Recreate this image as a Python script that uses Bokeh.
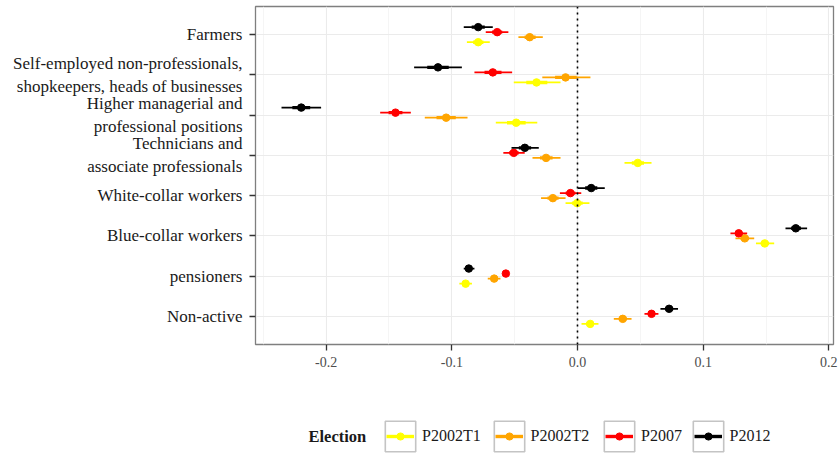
from bokeh.plotting import figure
from bokeh.layouts import column
from bokeh.models import (ColumnDataSource, FactorRange, Range1d, FixedTicker, Span,
                          PrintfTickFormatter, Legend, LegendItem, Label)
from bokeh.transform import dodge
from bokeh.embed import file_html
from bokeh.resources import INLINE

categories = ["Farmers",
              "Self-employed non-professionals,\nshopkeepers, heads of businesses",
              "Higher managerial and\nprofessional positions",
              "Technicians and\nassociate professionals",
              "White-collar workers",
              "Blue-collar workers",
              "pensioners",
              "Non-active"]

elections = ["P2002T1", "P2002T2", "P2007", "P2012"]
colors = ["#FFFF00", "#FFA500", "#FF0000", "#000000"]

est_P2002T1 = [-0.079, -0.0326, -0.0488, 0.048, -0.0003, 0.149, -0.089, 0.0101]
lo_P2002T1 = [-0.088, -0.0507, -0.065, 0.0374, -0.0095, 0.142, -0.094, 0.0032]
hi_P2002T1 = [-0.0698, -0.0135, -0.032, 0.0589, 0.0095, 0.1565, -0.084, 0.0167]

est_P2002T2 = [-0.038, -0.0095, -0.1045, -0.025, -0.0196, 0.1331, -0.0663, 0.036]
lo_P2002T2 = [-0.047, -0.028, -0.1215, -0.0358, -0.029, 0.1257, -0.0714, 0.0289]
hi_P2002T2 = [-0.0276, 0.0103, -0.0875, -0.0135, -0.0095, 0.1406, -0.0613, 0.043]

est_P2007 = [-0.0639, -0.0674, -0.1448, -0.0507, -0.0056, 0.1283, -0.057, 0.0589]
lo_P2007 = [-0.073, -0.082, -0.157, -0.059, -0.014, 0.1217, -0.059, 0.0533]
hi_P2007 = [-0.055, -0.052, -0.1326, -0.042, 0.003, 0.135, -0.055, 0.0644]

est_P2012 = [-0.079, -0.111, -0.2198, -0.0419, 0.0109, 0.1737, -0.0865, 0.0729]
lo_P2012 = [-0.0905, -0.130, -0.2355, -0.0525, 0.0003, 0.1655, -0.0905, 0.066]
hi_P2012 = [-0.0674, -0.092, -0.204, -0.0308, 0.0217, 0.1827, -0.082, 0.080]

x_ticks = [-0.2, -0.1, 0.0, 0.1, 0.2]
x_minor = [-0.25, -0.15, -0.05, 0.05, 0.15]
reference_x = 0.0
legend_title = "Election"

series = {
    "P2002T1": (est_P2002T1, lo_P2002T1, hi_P2002T1),
    "P2002T2": (est_P2002T2, lo_P2002T2, hi_P2002T2),
    "P2007": (est_P2007, lo_P2007, hi_P2007),
    "P2012": (est_P2012, lo_P2012, hi_P2012),
}

# style / layout constants
offsets = {"P2002T1": -0.1875, "P2002T2": -0.0625, "P2007": 0.0625, "P2012": 0.1875}
INNER = 0.45            # thick inner part of the interval
FRAME_LEFT = 255        # left edge of the plotting frame, px
KEY_CENTERS = [400, 508.5, 619, 707.5]   # legend key box centres, px from the left
BOX = 38                # legend box glyph size (inner box is 80 %)
KEY = 28                # legend line/point glyph width
FONT = "Liberation Serif"

y_range = FactorRange(factors=list(reversed(categories)),
                      range_padding=0.2, range_padding_units="absolute")
x_range = Range1d(-0.2562, 0.2037)

p = figure(width=840, height=375, y_range=y_range, x_range=x_range,
           output_backend="svg", toolbar_location=None,
           min_border_left=FRAME_LEFT, min_border_right=7, min_border_top=6,
           min_border_bottom=31)

p.background_fill_color = "white"
p.border_fill_color = "white"
p.outline_line_color = "#7f7f7f"
p.outline_line_width = 1.3

p.xaxis.ticker = FixedTicker(ticks=x_ticks, minor_ticks=x_minor)
p.xaxis.formatter = PrintfTickFormatter(format="%.1f")
p.xgrid.grid_line_color = "#ebebeb"
p.xgrid.grid_line_width = 1.1
p.xgrid.minor_grid_line_color = "#f2f2f2"
p.xgrid.minor_grid_line_width = 0.8
p.ygrid.grid_line_color = "#ebebeb"
p.ygrid.grid_line_width = 1.1

for ax in (p.xaxis[0], p.yaxis[0]):
    ax.axis_line_color = None
    ax.major_tick_line_color = "#333333"
    ax.major_tick_line_width = 1.3
    ax.major_tick_out = 6
    ax.major_tick_in = 0
    ax.minor_tick_line_color = None
    ax.major_label_text_font = FONT

p.xaxis.major_label_text_font_size = "14px"
p.xaxis.major_label_text_color = "#4d4d4d"
p.xaxis.major_label_standoff = 6
p.yaxis.major_label_text_font_size = "17px"
p.yaxis.major_label_text_color = "#1a1a1a"
p.yaxis.major_label_standoff = 7

p.add_layout(Span(location=reference_x, dimension="height", line_color="black",
                  line_width=1.6, line_dash="dotted"))

# legend strip below the chart (shares the ranges, draws nothing itself)
pl = figure(width=840, height=80, y_range=y_range, x_range=x_range,
            output_backend="svg", toolbar_location=None,
            x_axis_location=None, y_axis_location=None,
            min_border_left=0, min_border_right=0, min_border_top=0, min_border_bottom=0)
pl.outline_line_color = None
pl.grid.visible = False
pl.background_fill_color = "white"
pl.border_fill_color = "white"

for name, col, cx in zip(elections, colors, KEY_CENTERS):
    est, lo, hi = series[name]
    src = ColumnDataSource(dict(
        cat=categories, est=est, lo=lo, hi=hi,
        ilo=[e - INNER * (e - l) for e, l in zip(est, lo)],
        ihi=[e + INNER * (h - e) for e, h in zip(est, hi)],
    ))
    yd = dodge("cat", offsets[name], range=y_range)
    p.segment(x0="lo", x1="hi", y0=yd, y1=yd, source=src, line_color=col, line_width=1.8)
    p.segment(x0="ilo", x1="ihi", y0=yd, y1=yd, source=src, line_color=col, line_width=3.4)
    p.scatter(x="est", y=yd, source=src, size=7.5, fill_color=col, line_color=col)

    # hidden renderers used only for the legend keys
    box = pl.rect(x="est", y=yd, width=0, height=0, source=src, fill_color="white",
                  line_color="#c4c4c4", line_width=1.6, visible=False)
    kl = pl.segment(x0="ilo", x1="ihi", y0=yd, y1=yd, source=src, line_color=col,
                    line_width=3.4, visible=False)
    kp = pl.scatter(x="est", y=yd, source=src, size=7.5, fill_color=col, line_color=col,
                    visible=False)

    rel = cx - FRAME_LEFT
    pl.add_layout(Legend(items=[LegendItem(label=" ", renderers=[box], index=0)],
                         location=(rel - BOX / 2, 0), glyph_width=BOX, glyph_height=BOX,
                         label_width=0, label_standoff=0, label_text_alpha=0,
                         padding=0, margin=0, border_line_color=None,
                         background_fill_alpha=0))
    pl.add_layout(Legend(items=[LegendItem(label=name, renderers=[kl, kp], index=0)],
                         location=(rel - KEY / 2, 10), glyph_width=KEY, glyph_height=18,
                         label_standoff=BOX // 2 - KEY // 2 + 3,
                         label_text_font=FONT, label_text_font_size="16px",
                         label_text_color="#1a1a1a",
                         padding=0, margin=0, border_line_color=None,
                         background_fill_alpha=0))

pl.add_layout(Label(x=53, y=19, x_units="screen", y_units="screen", text=legend_title,
                    text_font=FONT, text_font_style="bold", text_font_size="16.5px",
                    text_color="#1a1a1a", text_baseline="middle"))

open("out.html", "w").write(file_html(column(p, pl, spacing=0), INLINE))
